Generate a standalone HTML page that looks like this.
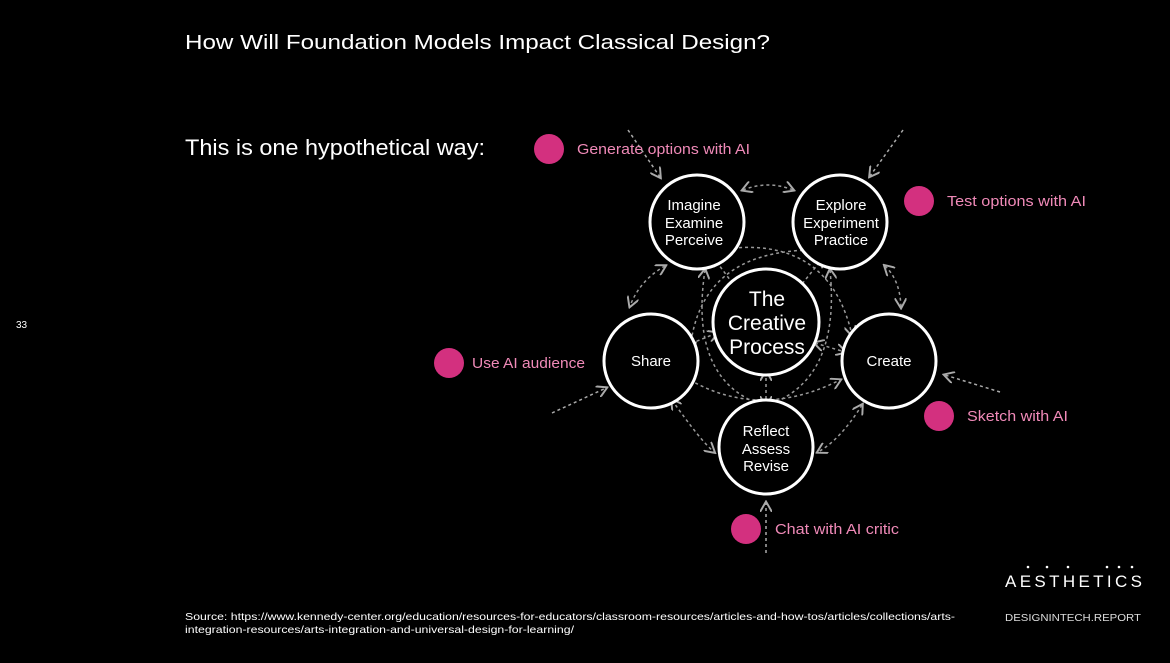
<!DOCTYPE html>
<html><head><meta charset="utf-8"><style>
body{margin:0;background:#000;width:1170px;height:658px;overflow:hidden;font-family:"Liberation Sans",sans-serif;}
</style></head><body>
<svg width="1170" height="658" viewBox="0 0 1170 658" xmlns="http://www.w3.org/2000/svg" font-family="Liberation Sans, sans-serif">
<defs><marker id="a" markerWidth="8" markerHeight="8" refX="6" refY="4" orient="auto-start-reverse"><path d="M0,0 L7,4 L0,8" fill="none" stroke="#aaa" stroke-width="1.3"/></marker></defs>
<text x="185" y="49" fill="#fff" font-size="20" textLength="585" lengthAdjust="spacingAndGlyphs">How Will Foundation Models Impact Classical Design?</text>
<text x="185" y="155" fill="#fff" font-size="22" textLength="300" lengthAdjust="spacingAndGlyphs">This is one hypothetical way:</text>
<text x="16" y="328" fill="#fff" font-size="10">33</text>
<g fill="none" stroke="#999" stroke-width="1.5" stroke-dasharray="3,3" marker-start="url(#a)" marker-end="url(#a)">
<path d="M743,190 Q768,180 793,190"/>
<path d="M665,266 Q640,280 630,306"/>
<path d="M885,266 Q900,280 901,307"/>
<path d="M672,400 Q700,440 714,452"/>
<path d="M862,405 Q840,440 818,452"/>
<path d="M713,257 L745,300"/>
<path d="M823,258 L789,300"/>
<path d="M680,348 L717,333"/>
<path d="M815,343 L845,352"/>
<path d="M766,405 L766,372"/>
<path d="M733,248 Q830,240 852,335" marker-start="none"/>
<path d="M815,250 Q700,250 690,350" marker-start="none"/>
<path d="M690,380 Q760,420 840,380" marker-start="none"/>
<path d="M705,270 Q690,370 750,400" marker-end="none"/>
<path d="M830,270 Q840,370 780,400" marker-end="none"/>
</g>
<g fill="none" stroke="#aaa" stroke-width="1.5" stroke-dasharray="3,3" marker-end="url(#a)">
<path d="M628,130 L660,177"/>
<path d="M903,130 L870,176"/>
<path d="M552,413 L606,388"/>
<path d="M1000,392 L945,375"/>
<path d="M766,553 L766,503"/>
</g>
<g fill="#000" stroke="#fff" stroke-width="3">
<circle cx="697" cy="222" r="47"/><circle cx="840" cy="222" r="47"/>
<circle cx="651" cy="361" r="47"/><circle cx="889" cy="361" r="47"/>
<circle cx="766" cy="447" r="47"/><circle cx="766" cy="322" r="53"/>
</g>
<g fill="#fff" font-size="15" text-anchor="middle">
<text x="694" y="210">Imagine</text><text x="694" y="228">Examine</text><text x="694" y="245">Perceive</text>
<text x="841" y="210">Explore</text><text x="841" y="228">Experiment</text><text x="841" y="245">Practice</text>
<text x="651" y="366">Share</text><text x="889" y="366">Create</text>
<text x="766" y="436">Reflect</text><text x="766" y="454">Assess</text><text x="766" y="471">Revise</text>
<text x="767" y="306" font-size="21">The</text><text x="767" y="330" font-size="21">Creative</text><text x="767" y="354" font-size="21">Process</text>
</g>
<g fill="#d3307f">
<circle cx="549" cy="149" r="15"/><circle cx="919" cy="201" r="15"/><circle cx="449" cy="363" r="15"/><circle cx="939" cy="416" r="15"/><circle cx="746" cy="529" r="15"/>
</g>
<g fill="#f08ab8" font-size="15">
<text x="577" y="154" textLength="173" lengthAdjust="spacingAndGlyphs">Generate options with AI</text>
<text x="947" y="206" textLength="139" lengthAdjust="spacingAndGlyphs">Test options with AI</text>
<text x="472" y="368" textLength="113" lengthAdjust="spacingAndGlyphs">Use AI audience</text>
<text x="967" y="421" textLength="101" lengthAdjust="spacingAndGlyphs">Sketch with AI</text>
<text x="775" y="534" textLength="124" lengthAdjust="spacingAndGlyphs">Chat with AI critic</text>
</g>
<text x="1005" y="587" fill="#fff" font-size="17" textLength="137" lengthAdjust="spacing">AESTHETICS</text>
<g fill="#fff"><circle cx="1028" cy="567" r="1.3"/><circle cx="1047" cy="567" r="1.3"/><circle cx="1068" cy="567" r="1.3"/><circle cx="1107" cy="567" r="1.3"/><circle cx="1119" cy="567" r="1.3"/><circle cx="1132" cy="567" r="1.3"/></g>
<text x="1005" y="621" fill="#ddd" font-size="10" textLength="136" lengthAdjust="spacingAndGlyphs">DESIGNINTECH.REPORT</text>
<text x="185" y="620" fill="#fff" font-size="10.5" textLength="770" lengthAdjust="spacingAndGlyphs">Source: https://www.kennedy-center.org/education/resources-for-educators/classroom-resources/articles-and-how-tos/articles/collections/arts-</text>
<text x="185" y="633" fill="#fff" font-size="10.5" textLength="389" lengthAdjust="spacingAndGlyphs">integration-resources/arts-integration-and-universal-design-for-learning/</text>
</svg>
</body></html>
